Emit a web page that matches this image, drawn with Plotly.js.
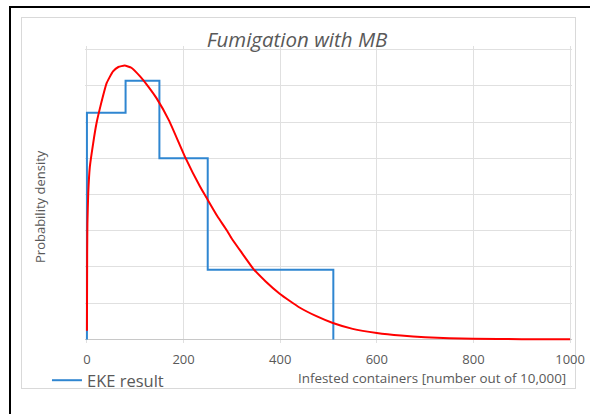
<!DOCTYPE html>
<html>
<head>
<meta charset="utf-8">
<script src="https://cdn.plot.ly/plotly-3.0.1.min.js"></script>
<style>
  html, body { margin: 0; padding: 0; background: #fff; }
  #wrap { position: relative; width: 590px; height: 414px; overflow: hidden; }
  #blk { position: absolute; left: 9px; top: 6px; width: 600px; height: 420px;
         border-left: 2px solid #000; border-top: 2px solid #000; box-sizing: border-box; }
  #frame { position: absolute; left: 21px; top: 17px; width: 555px; height: 372px;
           border: 1px solid #d9d9d9; box-sizing: border-box; }
  #chart { position: absolute; left: 0; top: 0; width: 590px; height: 414px; }
</style>
</head>
<body>
<div id="wrap">
  <div id="blk"></div>
  <div id="frame"></div>
  <div id="chart"></div>
</div>
<script>
// ---- data ----
// EKE histogram: bin edges (quantiles) and density heights
var binEdges = [0, 80, 150, 250, 510];
var binHeights = [0.00313, 0.00357, 0.00250, 0.00096];

// fitted density curve
var curveX = [0, 0.5, 1, 2.7, 6, 13, 20, 28, 41, 54, 65, 78, 92, 110, 127, 144, 170, 203, 234, 248, 270, 289, 299, 320, 344, 370, 399, 420, 440, 475, 509, 550, 600, 650, 700, 750, 800, 900, 1000];
var curveY = [0.00012, 0.0012, 0.0016, 0.00202, 0.00238, 0.00271, 0.00299, 0.00322, 0.00354, 0.0037, 0.00376, 0.00378, 0.00375, 0.00363, 0.00349, 0.00333, 0.00302, 0.00252, 0.00211, 0.00195, 0.00170, 0.00151, 0.00140, 0.00120, 0.000978, 0.00080, 0.00063, 0.00053, 0.00044, 0.00032, 0.000226, 0.000145, 0.000088, 0.000052, 0.00003, 0.000017, 0.00001, 0.000003, 0.000001];

var xTicks = [0, 200, 400, 600, 800, 1000];

// build step outline from the bins
var stepX = [binEdges[0]], stepY = [0];
for (var i = 0; i < binHeights.length; i++) {
  stepX.push(binEdges[i]);     stepY.push(binHeights[i]);
  stepX.push(binEdges[i + 1]); stepY.push(binHeights[i]);
}
stepX.push(binEdges[binEdges.length - 1]); stepY.push(0);

// ---- layout geometry ----
var W = 590, H = 414;
var x0px = 87, x1px = 570.5, y0px = 339, y1px = 50;
var xr = [-4, 1004];
var yr = [-0.00005, 0.00405];
var sx = (x1px - x0px) / 1000;
var sy = (y0px - y1px) / 0.004;
var L = x0px - (0 - xr[0]) * sx;
var R = W - (x1px + (xr[1] - 1000) * sx);
var T = y1px - (yr[1] - 0.004) * sy;
var B = H - (y0px + (0 - yr[0]) * sy);
var pw = W - L - R, ph = H - T - B;
function px2paperX(p) { return (p - L) / pw; }
function py2paperY(p) { return (H - B - p) / ph; }

var grey = '#595959';
var fontFam = 'Open Sans, Lato, sans-serif';

var traces = [
  {
    x: stepX, y: stepY, type: 'scatter', mode: 'lines',
    name: 'EKE result',
    line: { color: '#2f86d1', width: 2 },
    hoverinfo: 'x+y'
  },
  {
    x: curveX, y: curveY, type: 'scatter', mode: 'lines',
    name: 'Fitted distribution', showlegend: false,
    line: { color: '#ff0000', width: 2, shape: 'spline', smoothing: 0.4 },
    hoverinfo: 'x+y'
  }
];

var layout = {
  width: W, height: H,
  margin: { l: L, r: R, t: T, b: B, pad: 0 },
  paper_bgcolor: 'rgba(0,0,0,0)',
  plot_bgcolor: 'rgba(0,0,0,0)',
  font: { family: fontFam, color: grey },
  title: {
    text: '<i>Fumigation with MB</i>',
    font: { family: fontFam, size: 20.5, color: grey },
    xref: 'container', yref: 'container',
    x: 297 / W, xanchor: 'center',
    y: 1 - 40 / H, yanchor: 'middle'
  },
  xaxis: {
    range: xr, tickvals: xTicks, ticktext: xTicks.map(String),
    showgrid: true, gridcolor: '#e0e0e0', gridwidth: 1,
    zeroline: false, showline: false, ticks: '',
    tickfont: { family: fontFam, size: 13, color: grey },
    ticklabelstandoff: 7
  },
  yaxis: {
    range: yr, dtick: 0.0005, tick0: 0,
    showticklabels: false, ticks: '',
    showgrid: true, gridcolor: '#e0e0e0', gridwidth: 1,
    zeroline: true, zerolinecolor: '#c8c8c8', zerolinewidth: 1,
    showline: false
  },
  showlegend: true,
  legend: {
    x: px2paperX(47), xanchor: 'left',
    y: py2paperY(380), yanchor: 'middle',
    bgcolor: 'rgba(0,0,0,0)',
    font: { family: fontFam, size: 16.5, color: grey },
    itemwidth: 30
  },
  annotations: [
    {
      text: 'Infested containers [number out of 10,000]',
      xref: 'paper', yref: 'paper',
      x: px2paperX(568), xanchor: 'right',
      y: py2paperY(378), yanchor: 'middle',
      showarrow: false,
      font: { family: fontFam, size: 13.4, color: grey }
    },
    {
      text: 'Probability density',
      xref: 'paper', yref: 'paper',
      x: px2paperX(40), xanchor: 'center',
      y: py2paperY(206), yanchor: 'middle',
      textangle: -90,
      showarrow: false,
      font: { family: fontFam, size: 13, color: grey }
    }
  ]
};

Plotly.newPlot('chart', traces, layout, { displayModeBar: false });
</script>
</body>
</html>
